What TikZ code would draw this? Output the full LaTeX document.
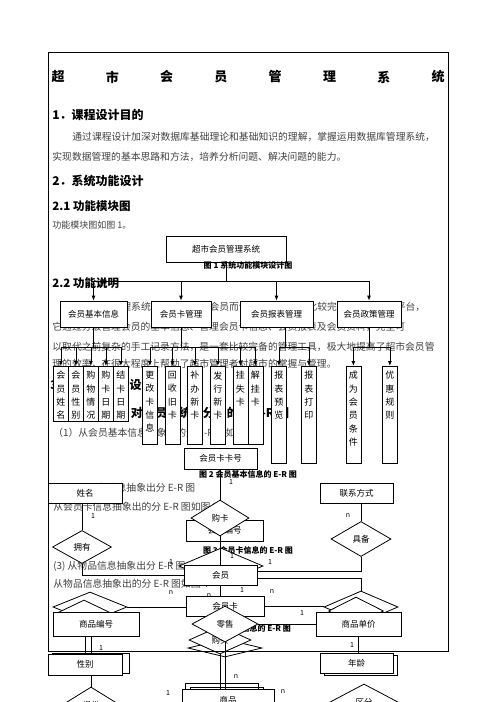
\documentclass[tikz,border=0pt]{standalone}
\usepackage{fontspec}
\setmainfont{Noto Sans CJK SC}
\usetikzlibrary{shapes.geometric,arrows.meta}
\XeTeXlinebreaklocale "zh"
\XeTeXlinebreakskip=0pt plus 1pt

\tikzset{
  body/.style={anchor=west, inner sep=0pt, text=black!75, font=\fontsize{9.8}{12}\selectfont},
  fullline/.style={body, text width=#1, align=justify},
  heading/.style={anchor=west, inner sep=0pt, font=\bfseries\fontsize{12}{14}\selectfont},
  titlechar/.style={inner sep=0pt, font=\bfseries\fontsize{13}{15}\selectfont},
  figcap/.style={inner sep=0pt, font=\bfseries\fontsize{8}{10}\selectfont},
  sysbox/.style={draw, fill=white, inner sep=0pt, minimum height=26, font=\fontsize{8.5}{10}\selectfont},
  leaf/.style={draw, fill=white, inner sep=0pt, anchor=north west, font=\fontsize{9}{13.3}\selectfont},
  ent/.style={draw, fill=white, inner sep=0pt, minimum width=73, minimum height=21, font=\fontsize{8.5}{10}\selectfont},
  rel/.style={diamond, draw, fill=white, inner sep=0pt, font=\fontsize{8.5}{10}\selectfont},
  mult/.style={inner sep=0pt, font=\fontsize{7}{8}\selectfont},
  down/.style={-{Latex[length=5pt,width=4pt]}},
}
\newcommand\vchars[2]{\parbox[t][#1pt][t]{15pt}{\centering\vspace*{5pt}#2}}

\begin{document}
\begin{tikzpicture}[x=1pt, y=-1pt, line width=0.8pt]
\useasboundingbox (0,0) rectangle (496,702);

% title and running text
\foreach \c [count=\i from 0] in {超,市,会,员,管,理,系,统}
  \node[titlechar] (t\i) at ({58+54.3*\i},77) {\c};
\node[heading] (h1) at (52,115) {1．课程设计目的};
\node[fullline=365] (p1a) at (72,137) {\parfillskip=0pt 通过课程设计加深对数据库基础理论和基础知识的理解，掌握运用数据库管理系统，};
\node[body] (p1b) at (52,157) {实现数据管理的基本思路和方法，培养分析问题、解决问题的能力。};
\node[heading] (h2) at (52,181) {2．系统功能设计};
\node[heading, font=\bfseries\fontsize{11.5}{14}\selectfont] (h21) at (52,206) {2.1 功能模块图};
\node[body, font=\fontsize{9}{11}\selectfont] (p21) at (52,225) {功能模块图如图 1。};
\node[heading, font=\bfseries\fontsize{11.5}{14}\selectfont] (h22) at (52,283) {2.2 功能说明};
\node[fullline=364] (p2a) at (72,307) {\parfillskip=0pt 超市会员管理系统是专为超市的会员而设计开发的一个比较完善的会员管理平台，};
\node[fullline=384] (p2b) at (52,327) {\parfillskip=0pt 它通过分级管理会员的基本信息、管理会员卡信息、会员报表及会员资料，完全可};
\node[fullline=384] (p2c) at (52,347) {\parfillskip=0pt 以取代之前复杂的手工记录方法，是一套比较完备的管理工具，极大地提高了超市会员管};
\node[body] (p2d) at (52,364) {理的效率，在很大程度上帮助了超市管理者对超市的掌握与管理。};
\node[heading] (h3) at (50,385) {3．数据库概念设计};
\node[heading] (h31) at (109,413) {3.1 对会员系统划分出的分 E-R 图};
\node[body] (p31) at (53,433) {（1）从会员基本信息抽象出的分 E-R 图如图 2};
\node[body] (p32) at (53,488) {(2) 从会员卡信息抽象出分 E-R 图};
\node[body] (p32b) at (53,507) {从会员卡信息抽象出的分 E-R 图如图 3};
\node[body] (p33) at (53,566) {(3) 从物品信息抽象出分 E-R 图};
\node[body] (p33b) at (53,584) {从物品信息抽象出的分 E-R 图如图 4};

% module chart
\node[sysbox, minimum width=120] (root) at (226,249.5) {超市会员管理系统};
\node[figcap] (cap1) at (248,265) {图 1 系统功能模块设计图};
\coordinate (bus) at (224,281);
\node[sysbox, minimum width=67] (jbxx) at (93.5,314) {会员基本信息};
\node[sysbox, minimum width=60] (kgl) at (181,314) {会员卡管理};
\node[sysbox, minimum width=73] (bbgl) at (276.5,314) {会员报表管理};
\node[sysbox, minimum width=64] (zcgl) at (369,314) {会员政策管理};
\draw (root.south) -- (root.south |- bus);
\draw (jbxx.north |- bus) -- (zcgl.north |- bus);
\foreach \m in {jbxx,kgl,bbgl,zcgl}
  \draw[down] (\m.north |- bus) -- (\m.north);

\node[leaf] (xm) at (53,366) {\vchars{55}{会\\员\\姓\\名}};
\node[leaf] (xb) at (68,366) {\vchars{55}{会\\员\\性\\别}};
\node[leaf] (gwqk) at (83,366) {\vchars{55}{购\\物\\情\\况}};
\node[leaf] (gkrq) at (98,366) {\vchars{55}{购\\卡\\日\\期}};
\node[leaf] (jkrq) at (113,366) {\vchars{55}{结\\卡\\日\\期}};
\node[leaf] (ggk) at (142,366) {\vchars{78}{更\\改\\卡\\信\\息}};
\node[leaf] (hsjk) at (164.5,366) {\vchars{78}{回\\收\\旧\\卡}};
\node[leaf] (bbxk) at (187,366) {\vchars{78}{补\\办\\新\\卡}};
\node[leaf] (fxxk) at (210,366) {\vchars{78}{发\\行\\新\\卡}};
\node[leaf] (gsk) at (232.5,366) {\vchars{78}{挂\\失\\卡}};
\node[leaf] (jgk) at (247.5,366) {\vchars{78}{解\\挂\\卡}};
\node[leaf] (bbyl) at (271,366) {\vchars{97}{报\\表\\预\\览}};
\node[leaf] (bbdy) at (301,366) {\vchars{97}{报\\表\\打\\印}};
\node[leaf] (cwhy) at (345.5,366) {\vchars{97}{成\\为\\会\\员\\条\\件}};
\node[leaf] (yhgz) at (382,366) {\vchars{97}{优\\惠\\规\\则}};

% second level buses
\draw (jbxx.south) -- ++(0,20) coordinate (b1);
\draw (xm.north |- b1) -- (jkrq.north |- b1);
\foreach \m in {xm,xb,gwqk,gkrq,jkrq}
  \draw[down] (\m.north |- b1) -- (\m.north);
\draw (kgl.south) -- ++(0,20) coordinate (b2);
\draw (ggk.north |- b2) -- (jgk.north |- b2);
\foreach \m in {ggk,hsjk,bbxk,fxxk,gsk,jgk}
  \draw[down] (\m.north |- b2) -- (\m.north);
\draw ([xshift=9pt]bbgl.south) -- ++(0,20) coordinate (b3);
\draw (bbyl.north |- b3) -- (bbdy.north |- b3);
\foreach \m in {bbyl,bbdy}
  \draw[down] (\m.north |- b3) -- (\m.north);
\draw (zcgl.south) -- ++(0,20) coordinate (b4);
\draw (cwhy.north |- b4) -- (yhgz.north |- b4);
\foreach \m in {cwhy,yhgz}
  \draw[down] (\m.north |- b4) -- (\m.north);

% E-R fragments
\node[ent] (kahao) at (220.5,458.5) {会员卡卡号};
\node[figcap] (cap2) at (248,474) {图 2 会员基本信息的 E-R 图};
\node[ent, minimum width=77] (bianhao) at (224.5,530.5) {会员编号};
\node[rel, minimum width=58, minimum height=36] (gouka) at (220,518) {购卡};
\draw (gouka.north |- kahao.south) -- (gouka.north);
\node[figcap] (cap3) at (248,550) {图 3 会员卡信息的 E-R 图};
\node[rel, minimum width=84, minimum height=36] (rel3) at (221,566) {};
\node[ent, minimum height=20] (huiyuan) at (220.5,575) {会员};
\draw (gouka.south) -- (gouka.south |- huiyuan.north);

\node[ent, minimum width=74, minimum height=20] (xingming) at (85,493) {姓名};
\node[rel, minimum width=59, minimum height=33] (yongyou) at (82,547) {拥有};
\draw (yongyou.north |- xingming.south) -- (yongyou.north);
\draw (yongyou.south) |- (huiyuan.west);

\node[ent, minimum height=20] (lianxi) at (356.5,493) {联系方式};
\node[rel, minimum width=60, minimum height=35] (jubei) at (361,539) {具备};
\draw (jubei.north |- lianxi.south) -- (jubei.north);
\draw (jubei.south) |- ([yshift=4pt]huiyuan.east);

\node[rel, minimum width=74, minimum height=30] (lsA) at (90,607) {};
\node[rel, minimum width=50, minimum height=24] (lsB) at (84,612) {};
\node[ent, minimum width=86, minimum height=24] (spbh) at (96,624) {商品编号};

\node[rel, minimum width=74, minimum height=32] (dA) at (361,607) {};
\node[rel, minimum width=55, minimum height=28] (dB) at (356,611) {};
\node[ent, minimum width=85, minimum height=24] (spdj) at (358.5,624) {商品单价};
\draw ([yshift=-3pt]huiyuan.east) -| (dA.north);

\node[ent, minimum width=78, minimum height=20] (hyk) at (225,606) {会员卡};
\draw (huiyuan.south) -- (huiyuan.south |- hyk.north);
\draw (lsA.east) -- (lsA.east -| hyk.west);
\draw (hyk.east) -- (hyk.east -| dA.west);
\node[figcap] (cap4) at (250,628) {图 4 物品信息的 E-R 图};
\node[rel, minimum width=74, minimum height=18] (d3) at (225,648) {};
\node[rel, minimum width=62, minimum height=28] (goumai) at (220,640) {购买};
\node[rel, minimum width=66, minimum height=36] (lingshou) at (225,624) {零售};
\draw (lingshou.east) -- (lingshou.east -| spdj.west);

\draw (324,655) rectangle (397,675);
\node[ent, minimum height=20] (nianling) at (356.5,663) {年龄};
\draw (spdj.south) -- (spdj.south |- nianling.north);

\node[rel, minimum width=58, minimum height=36] (tigong) at (91,705) {提供};
\draw (tigong.north |- spbh.south) -- (tigong.north);
\draw (52,653) rectangle (129,673);
\node[ent, minimum width=74] (xingbie) at (85,664.5) {性别};
\draw (xingbie.north |- spbh.south) -- (xingbie.north);

\draw (185,683) rectangle (258,702);
\draw (190,687) rectangle (263,702);
\node[ent, anchor=north, minimum width=92, minimum height=22] (shangpin) at (228,689) {商品};
\draw (lingshou.south) -- (lingshou.south |- shangpin.north);
\draw (goumai.south) -- (goumai.south |- shangpin.north);
\node[rel, minimum width=68, minimum height=36] (qufen) at (364,702) {区分};

% cardinalities
\foreach \x/\y/\m [count=\k] in {231/482/1, 93/516/1, 348/516/n, 171/562/1, 232/556/1,
    247/551/1, 270/562/1, 171/593/n, 209/596/n, 242/590/1, 272/592/n, 302/613/1,
    352/645/1, 101/648/1, 236/677/n, 283/692/n, 168/693/1}
  \node[mult] (m\k) at (\x,\y) {\m};

% page frame
\draw (48,52) rectangle (448,651);
\end{tikzpicture}
\end{document}
